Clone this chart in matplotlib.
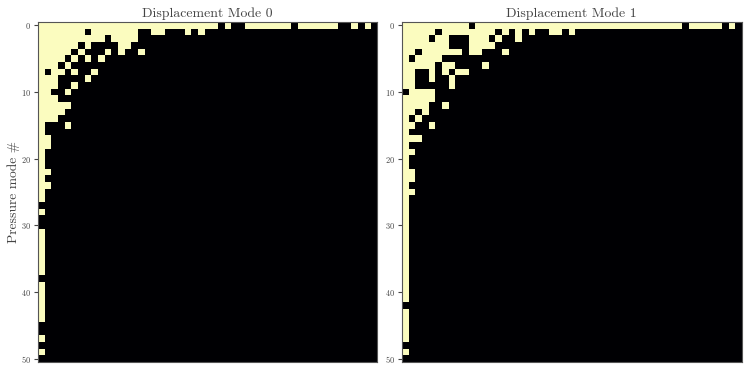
import numpy as np
import matplotlib
matplotlib.use("Agg")
import matplotlib.pyplot as plt

plt.rcParams['font.family'] = ['cmr10', 'DejaVu Serif']
plt.rcParams['axes.formatter.use_mathtext'] = True
plt.rcParams['axes.unicode_minus'] = False

N_MODES = 51
titles = ["Displacement Mode 0", "Displacement Mode 1"]
ylabel_text = "Pressure mode #"
y_ticks = [0, 10, 20, 30, 40, 50]

# Significant cells (row -> columns) beyond the first column pattern
mode0_cells = {
    0: [*range(0, 27), 28, *range(31, 38), *range(39, 45), 47, 49],
    1: [*range(0, 7), *range(8, 15), 17, 18, 22, 24],
    2: [*range(0, 10), 11, 12, 13, 14],
    3: [0, 1, 2, 3, 4, 5, 7, 12, 13],
    4: [0, 1, 2, 3, 4, 6, 10, 12, 15],
    5: [0, 1, 2, 3, 5, 7, 9],
    6: [0, 1, 2, 4],
    7: [0, 2, 3, 5, 8],
    8: [0, 1, 2, 7],
    9: [0, 1, 2, 5],
    10: [0, 1, 4],
    11: [0, 1, 2],
    12: [0, 1, 2, 3, 4],
    13: [0, 1, 2, 3],
    14: [0, 1, 2],
    15: [0, 4],
    16: [0],
    17: [0, 1],
    18: [0, 1],
    19: [0], 20: [0], 21: [0],
    22: [0, 1],
    23: [0],
    24: [0, 1],
    25: [0], 26: [0],
    28: [0],
    31: [0], 32: [0], 33: [0], 34: [0], 35: [0], 36: [0], 37: [0],
    39: [0], 40: [0], 41: [0], 42: [0], 43: [0], 44: [0],
    47: [0],
    49: [0],
}
mode1_cells = {
    0: [*range(0, 10), *range(11, 42), *range(43, 48), 49],
    1: [0, 1, 2, 3, 4, *range(6, 14), 15, 17, 19, 22, 23, 25],
    2: [0, 1, 2, 3, 5, 6, 10, 11, 12, 14, 17],
    3: [0, 1, 2, 3, 4, 5, 6, 10, 11, 12, 13],
    4: [0, 1, 3, 4, 5, 6, 7, 8, 10, 11, 15],
    5: [0, 2, 3, 4, 5],
    6: [0, 1, 2, 3, 4, 6, 7, 12],
    7: [0, 1, 4, 6, 8, 9],
    8: [0, 1, 4, 7],
    9: [0, 1, 7],
    10: [1, 2, 3, 4],
    11: [0, 1, 2, 3, 4],
    12: [0, 1, 2, 3, 6],
    13: [0, 1, 3],
    14: [0, 2],
    15: [0, 1, 4],
    16: [0],
    17: [0, 1, 2],
    18: [0],
    19: [0, 1],
    20: [0], 21: [0],
    22: [0, 1], 23: [0, 1],
    24: [0],
    25: [0, 1],
    **{r: [0] for r in [26, 27, 28, 29, 30, 31, 32, 33, 34, 35, 36, 37, 38, 39, 40, 41]},
    **{r: [0] for r in [43, 44, 45, 46, 47]},
    49: [0],
}


def to_matrix(cells):
    m = np.zeros((N_MODES, N_MODES))
    for row, cols in cells.items():
        m[row, cols] = 1
    return m


W, H = 747, 371
fig = plt.figure(figsize=(W / 100, H / 100), dpi=100)
panels = [(37.5, mode0_cells), (401.5, mode1_cells)]
for i, (left, cells) in enumerate(panels):
    ax = fig.add_axes([left / W, 1 - 362 / H, 340 / W, 340 / H])
    ax.imshow(to_matrix(cells), cmap="magma", vmin=0, vmax=1,
              aspect="auto", interpolation="nearest")
    ax.set_title(titles[i], fontsize=9.9, color="#444444", pad=3.5)
    ax.set_xticks([])
    ax.set_yticks(y_ticks)
    ax.tick_params(axis="y", labelsize=6, length=3, width=0.8,
                   color="#444444", labelcolor="#444444", pad=2)
    for s in ax.spines.values():
        s.set_color("#555555")
        s.set_linewidth(0.8)
    if i == 0:
        ax.set_ylabel(ylabel_text, fontsize=9.7, color="#444444")
        ax.yaxis.set_label_coords(-0.051, 0.5)

fig.savefig("out.png", dpi=100)
